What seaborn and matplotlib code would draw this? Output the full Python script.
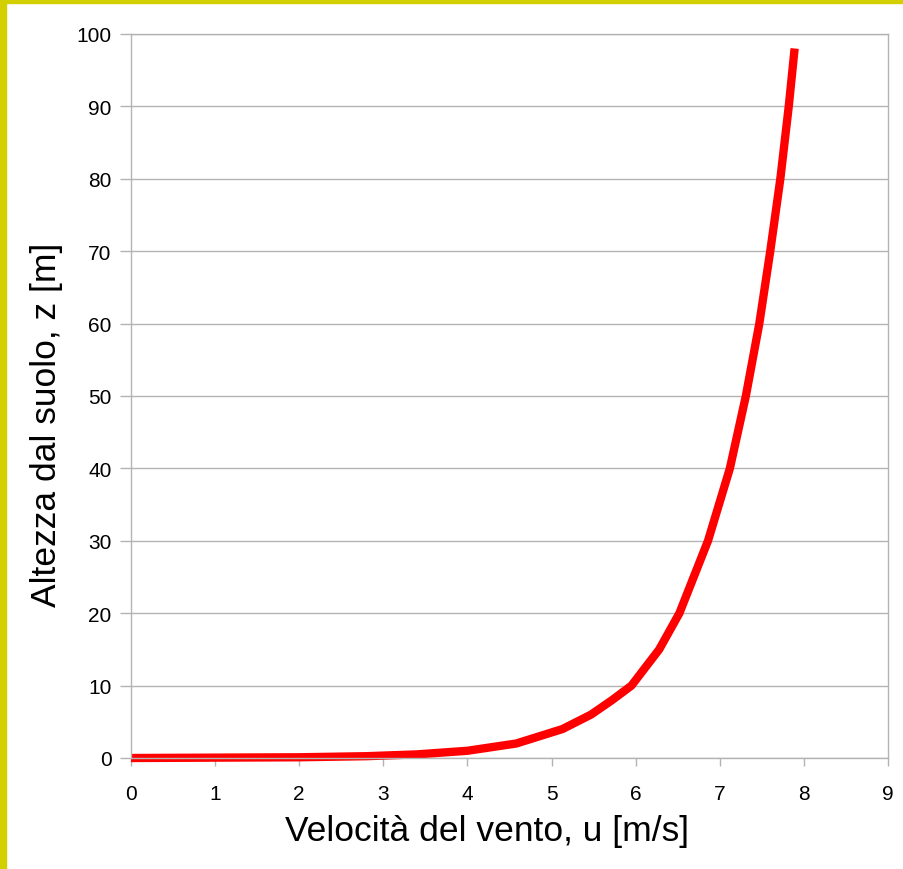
import matplotlib
matplotlib.use('Agg')
import matplotlib.pyplot as plt
import seaborn as sns
import pandas as pd
from matplotlib.patches import Rectangle

# wind speed profile
height_m = [0, 0.1, 0.25, 0.5, 1, 2, 4, 6, 8, 10, 15, 20, 30, 40, 50, 60, 70, 80, 90, 98]
wind_speed = [0, 2.0, 2.8, 3.4, 4.0, 4.58, 5.13, 5.47, 5.72, 5.95, 6.28, 6.52, 6.86,
              7.12, 7.31, 7.47, 7.60, 7.72, 7.82, 7.89]
x_ticks = list(range(0, 10))
y_ticks = list(range(0, 101, 10))

df = pd.DataFrame({'u': wind_speed, 'z': height_m})

sns.set_style('white')
plt.rcParams['font.family'] = ['Liberation Sans', 'DejaVu Sans']

fig = plt.figure(figsize=(9.04, 8.70), dpi=100)
ax = fig.add_axes([131 / 904, 111 / 870, 757 / 904, 724 / 870])

sns.lineplot(data=df, x='u', y='z', sort=False, color='#ff0000', linewidth=6,
             solid_capstyle='butt', clip_on=False, ax=ax)

ax.set_xlim(0, 9)
ax.set_ylim(0, 100)
ax.set_xticks(x_ticks)
ax.set_yticks(y_ticks)
ax.yaxis.grid(True, color='#b3b3b3', linewidth=1)
ax.xaxis.grid(False)
for s in ax.spines.values():
    s.set_color('#b3b3b3')
    s.set_linewidth(1)
ax.tick_params(axis='y', direction='out', length=8, width=1, color='#b3b3b3',
               labelsize=15, labelcolor='black', pad=6, left=True)
ax.tick_params(axis='x', direction='out', length=6, width=1, color='#b3b3b3',
               labelsize=15, labelcolor='black', pad=13, bottom=True)

ax.set_xlabel('Velocità del vento, u [m/s]', fontsize=25.5, color='black', labelpad=8)
ax.set_ylabel('Altezza dal suolo, z [m]', fontsize=25.5, color='black', labelpad=10)
# labels are a little off centre in the original
ax.xaxis.label.set_x(0.470)
ax.yaxis.label.set_y(0.461)

# yellow frame on top and left edges
fig.patches.append(Rectangle((0, 0), 6 / 904, 1, transform=fig.transFigure,
                             color='#d2d000', zorder=10))
fig.patches.append(Rectangle((0, 1 - 4 / 870), 1, 4 / 870, transform=fig.transFigure,
                             color='#d2d000', zorder=10))

plt.savefig('out.png', dpi=100)
